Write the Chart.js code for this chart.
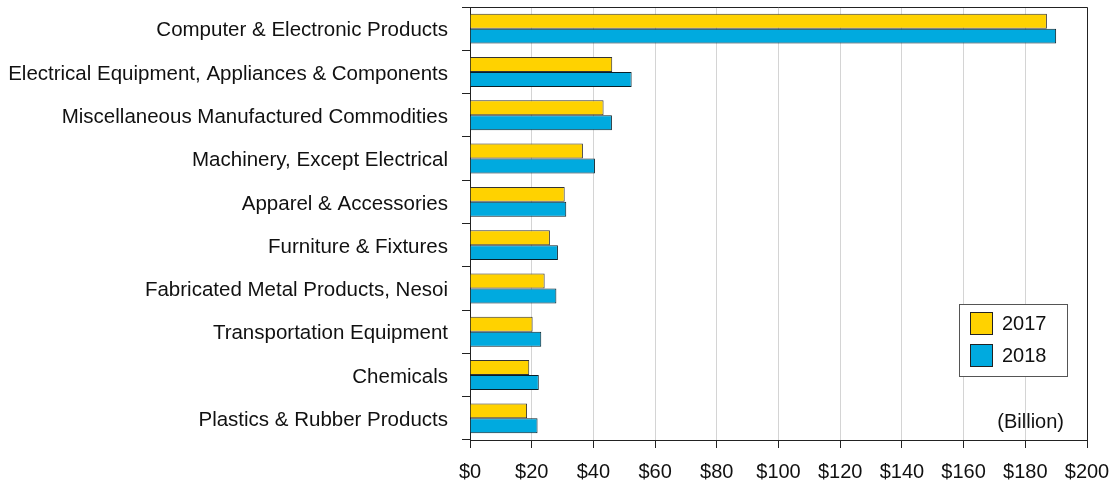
<!DOCTYPE html>
<html>
<head>
<meta charset="utf-8">
<script src="https://cdn.jsdelivr.net/npm/chart.js@4"></script>
<style>
  html, body { margin: 0; padding: 0; background: #fff; }
  #wrap { position: relative; width: 1116px; height: 483px; }
</style>
</head>
<body>
<div id="wrap"><canvas id="c" width="1116" height="483"></canvas></div>
<script>
// Import categories (top to bottom)
const categories = [
  "Computer & Electronic Products",
  "Electrical Equipment, Appliances & Components",
  "Miscellaneous Manufactured Commodities",
  "Machinery, Except Electrical",
  "Apparel & Accessories",
  "Furniture & Fixtures",
  "Fabricated Metal Products, Nesoi",
  "Transportation Equipment",
  "Chemicals",
  "Plastics & Rubber Products"
];
// Values in billions of dollars
const values2017 = [187.0, 46.1, 43.3, 36.6, 30.7, 25.9, 24.2, 20.3, 19.2, 18.5];
const values2018 = [190.0, 52.4, 46.0, 40.5, 31.2, 28.5, 28.0, 23.1, 22.3, 21.9];
const seriesLabels = ["2017", "2018"];
const unitNote = "(Billion)";
const xTicks = [0, 20, 40, 60, 80, 100, 120, 140, 160, 180, 200];

const FONT = "'Liberation Sans', Arial, Helvetica, sans-serif";
const YELLOW = "#FFD200";
const BLUE = "#00AADF";

// Frame on top and right, plus legend box and unit note inside the plot
const overlay = {
  id: "overlay",
  afterDraw(chart) {
    const { ctx, chartArea: a } = chart;
    ctx.save();
    ctx.strokeStyle = "#222";
    ctx.lineWidth = 1;
    ctx.beginPath();
    ctx.moveTo(a.left, a.top + 0.5);
    ctx.lineTo(a.right + 0.5, a.top + 0.5);
    ctx.lineTo(a.right + 0.5, a.bottom);
    ctx.stroke();

    // legend
    const lx = 959.5, ly = 304.5, lw = 108, lh = 72;
    ctx.fillStyle = "#fff";
    ctx.fillRect(lx, ly, lw, lh);
    ctx.strokeStyle = "#555";
    ctx.strokeRect(lx, ly, lw, lh);
    chart.data.datasets.forEach((ds, i) => {
      const sy = 312.5 + i * 32;
      ctx.fillStyle = ds.backgroundColor;
      ctx.fillRect(970.5, sy, 22, 22);
      ctx.strokeStyle = "#222";
      ctx.strokeRect(970.5, sy, 22, 22);
      ctx.fillStyle = "#111";
      ctx.font = "20px " + FONT;
      ctx.textBaseline = "middle";
      ctx.textAlign = "left";
      ctx.fillText(ds.label, 1002, sy + 12);
    });

    ctx.font = "20px " + FONT;
    ctx.fillStyle = "#111";
    ctx.textAlign = "right";
    ctx.textBaseline = "middle";
    ctx.fillText(unitNote, 1064, 422);
    ctx.restore();
  }
};

new Chart(document.getElementById("c"), {
  type: "bar",
  data: {
    labels: categories,
    datasets: [
      { label: seriesLabels[0], data: values2017, backgroundColor: YELLOW, borderColor: "#333", borderWidth: 1,
        categoryPercentage: 0.69, barPercentage: 1.0 },
      { label: seriesLabels[1], data: values2018, backgroundColor: BLUE, borderColor: "#0a1f28", borderWidth: 1,
        categoryPercentage: 0.69, barPercentage: 1.0 }
    ]
  },
  options: {
    indexAxis: "y",
    responsive: false,
    animation: false,
    layout: { padding: { top: 7, right: 29, left: 0, bottom: 0 } },
    plugins: { legend: { display: false }, tooltip: { enabled: false } },
    scales: {
      x: {
        min: 0, max: 200,
        afterBuildTicks(scale) { scale.ticks = xTicks.map(v => ({ value: v })); },
        afterFit(scale) { scale.height = 43; scale.paddingRight = 0; scale.paddingLeft = 0; },
        border: { color: "#222", width: 1 },
        grid: { color: "#d4d4d4", lineWidth: 1, tickLength: 8, tickColor: "#222" },
        ticks: {
          color: "#111", padding: 12,
          font: { family: FONT, size: 20 },
          callback: v => "$" + v,
          maxRotation: 0, autoSkip: false
        }
      },
      y: {
        offset: true,
        afterFit(scale) { scale.width = 470; scale.paddingTop = 0; scale.paddingBottom = 0; },
        border: { color: "#222", width: 1 },
        grid: { offset: true, drawOnChartArea: false, tickLength: 8, tickColor: "#222" },
        ticks: { color: "#111", padding: 14, labelOffset: 2, font: { family: FONT, size: 20.5 }, autoSkip: false }
      }
    }
  },
  plugins: [overlay]
});
</script>
</body>
</html>
